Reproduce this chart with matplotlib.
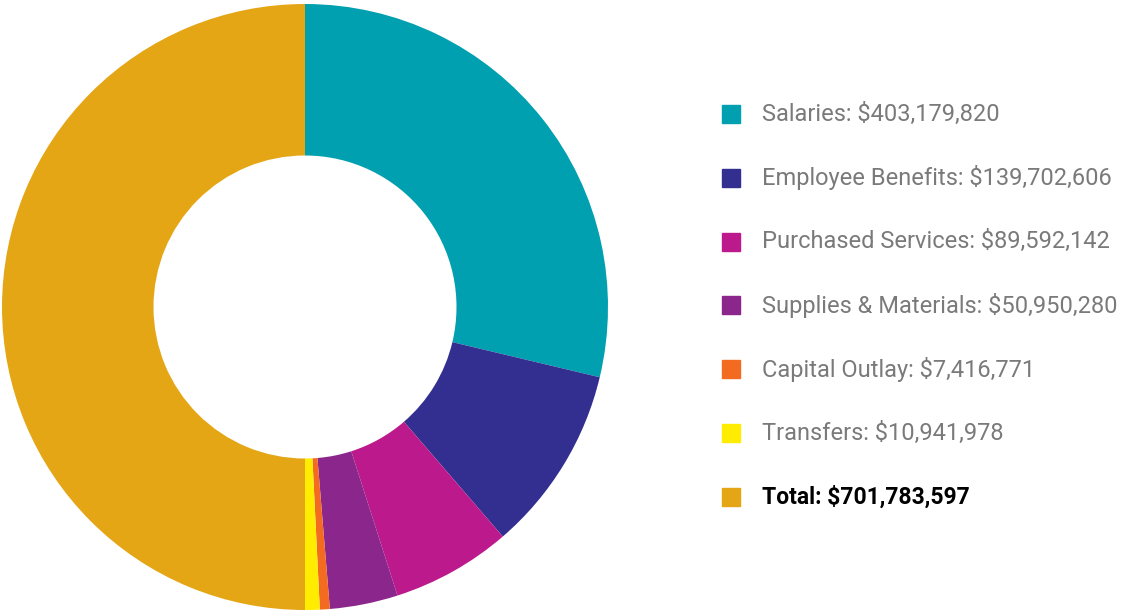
import matplotlib.pyplot as plt
from matplotlib.patches import Rectangle

# Данные
categories = ["Salaries", "Employee Benefits", "Purchased Services",
              "Supplies & Materials", "Capital Outlay", "Transfers", "Total"]
amounts = [403179820, 139702606, 89592142, 50950280, 7416771, 10941978, 701783597]
colors = ["#00A0B0", "#332F91", "#BC1A8C", "#8A268C", "#F26B21", "#FFEC00", "#E5A615"]

W, H = 1123, 610


def main():
    fig = plt.figure(figsize=(W / 100, H / 100), dpi=100)

    # Кольцевая диаграмма
    cx, cy, r = 305, 307, 303
    ax = fig.add_axes([(cx - r) / W, (H - cy - r) / H, 2 * r / W, 2 * r / H])
    ax.pie(amounts, colors=colors, startangle=90, counterclock=False,
           radius=1, wedgeprops=dict(width=0.5, edgecolor="none"))
    ax.set_xlim(-1, 1)
    ax.set_ylim(-1, 1)
    ax.set_aspect("equal")
    ax.axis("off")

    # Легенда
    y0, step = 114, 63.8
    for i, (name, val, col) in enumerate(zip(categories, amounts, colors)):
        y = y0 + i * step
        fig.patches.append(Rectangle(((722) / W, (H - y - 9) / H), 18 / W, 18 / H,
                                     transform=fig.transFigure, color=col))
        label = f"{name}: ${val:,}"
        last = i == len(categories) - 1
        fig.text(762 / W, (H - y) / H, label, va="center", ha="left",
                 fontsize=16.5 if last else 17, family="Roboto",
                 color="#000000" if last else "#7a7a7a",
                 fontweight="bold" if last else "normal")

    fig.savefig("out.png", dpi=100)


if __name__ == "__main__":
    main()
